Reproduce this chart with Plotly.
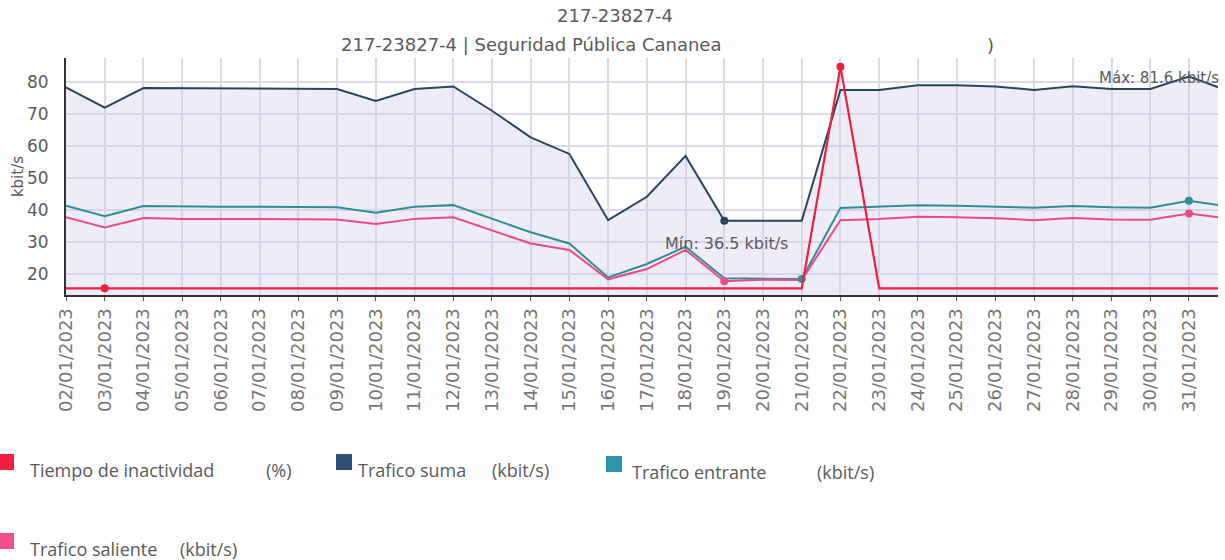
import plotly.graph_objects as go

# dias del reporte (el ultimo punto queda parcialmente fuera del eje)
dates = [f'2023-01-{d:02d}' for d in range(2, 32)] + ['2023-02-01']

trafico_suma = [78.2, 71.9, 78.0, 77.9, 77.9, 77.9, 77.8, 77.7, 74.0, 77.7,
                78.5, 70.9, 62.6, 57.4, 36.7, 44.0, 56.8, 36.5, 36.5, 36.5,
                77.4, 77.4, 78.9, 78.9, 78.5, 77.4, 78.6, 77.7, 77.7, 81.6, 77.2]
trafico_entrante = [41.2, 37.9, 41.1, 40.9, 40.9, 40.9, 40.8, 40.7, 39.0, 40.9,
                    41.4, 37.1, 32.9, 29.4, 18.8, 23.0, 28.4, 18.5, 18.3, 18.3,
                    40.5, 40.9, 41.4, 41.2, 40.9, 40.6, 41.1, 40.7, 40.6, 42.8, 41.0]
trafico_saliente = [37.6, 34.4, 37.4, 37.1, 37.1, 37.1, 37.0, 36.9, 35.5, 37.1,
                    37.6, 33.6, 29.4, 27.4, 18.2, 21.4, 27.4, 17.6, 18.1, 18.0,
                    36.7, 37.1, 37.8, 37.6, 37.3, 36.7, 37.4, 36.9, 36.8, 38.8, 37.2]
tiempo_inactividad = [0] * 20 + [100] + [0] * 10  # %

COL_SUMA = '#284560'
COL_ENTRANTE = '#2e8d9c'
COL_SALIENTE = '#ea4a86'
COL_INACT = '#f01e40'
GRID = '#dcdae6'
TXT = '#5a5a5a'

# geometria del area de trazado en pixeles
W, H = 1225, 560
L, R, T, B = 66, 1218, 58, 295


def px(x):
    return (x - L) / (R - L)


def py(y):
    return (B - y) / (B - T)


def marks(values, idx):
    # marcadores solo en los puntos de min / max
    return [v if i in idx else None for i, v in enumerate(values)]


fig = go.Figure()

fig.add_trace(go.Scatter(
    x=dates, y=trafico_suma, mode='lines', name='Trafico suma',
    line=dict(color=COL_SUMA, width=2), fill='tozeroy',
    fillcolor='rgba(205,200,232,0.35)'
))
fig.add_trace(go.Scatter(
    x=dates, y=trafico_entrante, mode='lines', name='Trafico entrante',
    line=dict(color=COL_ENTRANTE, width=2)
))
fig.add_trace(go.Scatter(
    x=dates, y=trafico_saliente, mode='lines', name='Trafico saliente',
    line=dict(color=COL_SALIENTE, width=2)
))
fig.add_trace(go.Scatter(
    x=dates, y=tiempo_inactividad, mode='lines', name='Tiempo de inactividad',
    line=dict(color=COL_INACT, width=2.2), yaxis='y2'
))

# puntos de min / max
fig.add_trace(go.Scatter(x=dates, y=marks(trafico_suma, [17]), mode='markers',
                         marker=dict(color=COL_SUMA, size=8)))
fig.add_trace(go.Scatter(x=dates, y=marks(trafico_entrante, [19, 29]), mode='markers',
                         marker=dict(color=COL_ENTRANTE, size=8)))
fig.add_trace(go.Scatter(x=dates, y=marks(trafico_saliente, [17, 29]), mode='markers',
                         marker=dict(color=COL_SALIENTE, size=8)))
fig.add_trace(go.Scatter(x=dates, y=marks(tiempo_inactividad, [1, 20]), mode='markers',
                         marker=dict(color=COL_INACT, size=8), yaxis='y2'))

title_font = dict(size=18, color=TXT, family='DejaVu Sans')
annotations = [
    dict(text='217-23827-4', x=px(615), y=py(16), font=title_font),
    dict(text='217-23827-4 | Seguridad Pública Cananea', x=px(531), y=py(44), font=title_font),
    dict(text=')', x=px(990), y=py(46), font=title_font),
    dict(text='Mín: 36.5 kbit/s', x=px(726), y=py(243), font=dict(size=16, color=TXT, family='DejaVu Sans')),
    dict(text='Máx: 81.6 kbit/s', x=px(1221), y=py(78), xanchor='right',
         font=dict(size=15, color=TXT, family='DejaVu Sans')),
]

# leyenda dibujada a mano (cuadros + texto)
legend_items = [
    (0, 462, COL_INACT, 'Tiempo de inactividad', 28, '(%)', 264),
    (338, 462, '#2e5070', 'Trafico suma', 356, '(kbit/s)', 490),
    (608, 464, '#2e94aa', 'Trafico entrante', 630, '(kbit/s)', 815),
    (0, 541, '#f2508c', 'Trafico saliente', 28, '(kbit/s)', 178),
]
shapes = []
legend_font = dict(size=18, color=TXT, family='Open Sans')
for sx, sy, col, name, tx, unit, ux in legend_items:
    shapes.append(dict(type='rect', xref='paper', yref='paper',
                       x0=px(sx - 2), x1=px(sx + 14), y0=py(sy + 8), y1=py(sy - 8),
                       fillcolor=col, line=dict(width=0)))
    annotations.append(dict(text=name, x=px(tx), y=py(sy + 8), xanchor='left', font=legend_font))
    annotations.append(dict(text=unit, x=px(ux), y=py(sy + 8), xanchor='left', font=legend_font))

for a in annotations:
    a.setdefault('xref', 'paper')
    a.setdefault('yref', 'paper')
    a.setdefault('showarrow', False)
    a.setdefault('xanchor', 'center')
    a.setdefault('yanchor', 'middle')

fig.update_layout(
    width=W, height=H,
    margin=dict(l=L, r=W - R, t=T, b=H - B),
    paper_bgcolor='white', plot_bgcolor='white',
    showlegend=False,
    annotations=annotations,
    shapes=shapes,
    xaxis=dict(
        type='date', range=['2023-01-02', '2023-01-31 18:00'],
        dtick=86400000, tick0='2023-01-02', tickformat='%d/%m/%Y', tickangle=-90,
        tickfont=dict(size=18, color='#767676', family='DejaVu Sans'),
        showgrid=True, gridcolor=GRID, gridwidth=1.5,
        showline=True, linecolor='#333', linewidth=2,
        ticks='outside', ticklen=4, tickcolor='#555',
        automargin=False,
    ),
    yaxis=dict(
        range=[13.3, 87.4], dtick=10, tick0=0,
        tickfont=dict(size=17, color=TXT, family='DejaVu Sans'),
        ticklabelstandoff=12,
        title=dict(text='kbit/s', font=dict(size=15, color=TXT, family='DejaVu Sans'), standoff=0),
        showgrid=True, gridcolor=GRID, gridwidth=2,
        showline=True, linecolor='#333', linewidth=2,
        zeroline=False, automargin=False,
    ),
    yaxis2=dict(
        overlaying='y', range=[-3.0, 103.9], visible=False,
    ),
)

fig.write_html('out.html', config={'displayModeBar': False},
               post_script="document.body.style.margin='0px';")
